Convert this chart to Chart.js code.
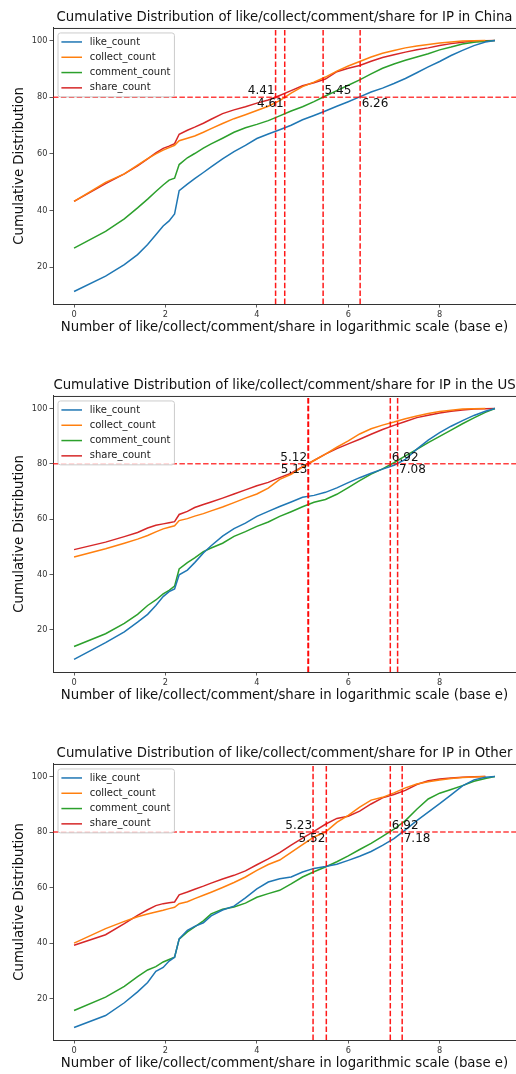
<!DOCTYPE html>
<html lang="en">
<head>
    <meta charset="UTF-8">
    <title>Cumulative Distribution of like/collect/comment/share</title>
    <script src="https://cdn.jsdelivr.net/npm/chart.js@4.4.1/dist/chart.umd.min.js"></script>
    <style>
        body {
            margin: 0;
            background: #ffffff;
            width: 516px;
            height: 1074px;
            overflow: hidden;
            position: relative;
        }
        .panel {
            position: absolute;
            left: 0;
            width: 516px;
            height: 340px;
        }
    </style>
</head>
<body>
    <div class="panel" style="top:0px"><canvas id="chinaChart" width="516" height="340"></canvas></div>
    <div class="panel" style="top:368px"><canvas id="usChart" width="516" height="340"></canvas></div>
    <div class="panel" style="top:736px"><canvas id="otherChart" width="516" height="340"></canvas></div>

    <script>
        // x = log(count), shared by all panels
        const logX = [0, 0.69, 1.1, 1.39, 1.61, 1.79, 1.95, 2.08, 2.2, 2.3,
            2.48, 2.64, 2.83, 3.0, 3.25, 3.5, 3.75, 4.0, 4.25, 4.5, 4.75, 5.0, 5.25, 5.5,
            5.75, 6.0, 6.25, 6.5, 6.75, 7.0, 7.25, 7.5, 7.75, 8.0, 8.25, 8.5, 8.75, 9.0, 9.21];

        const xTicks = [0, 2, 4, 6, 8];
        const yTicks = [20, 40, 60, 80, 100];

        const seriesNames = ['like_count', 'collect_count', 'comment_count', 'share_count'];
        const seriesColors = ['#1f77b4', '#ff7f0e', '#2ca02c', '#d62728'];
        const threshold = 80;

        // IP in China
        const chinaLike = [11.4, 16.8, 20.9, 24.4, 28.0, 31.4, 34.5, 36.3, 38.8, 47.0, 49.3, 51.2, 53.4, 55.4, 58.2, 60.8, 63.0, 65.4, 67.0, 68.5, 70.1, 72.0, 73.5, 75.1, 76.8, 78.4, 80.1, 81.8, 83.2, 84.8, 86.6, 88.6, 90.7, 92.6, 94.7, 96.5, 98.2, 99.5, 100];
        const chinaCollect = [43.2, 49.9, 52.9, 56.0, 58.3, 60.0, 61.3, 62.2, 63.0, 64.6, 65.5, 66.3, 67.6, 68.9, 70.7, 72.4, 73.8, 75.3, 76.8, 78.8, 81.4, 83.7, 85.3, 87.1, 89.2, 91.0, 92.6, 94.2, 95.5, 96.5, 97.4, 98.1, 98.6, 99.1, 99.5, 99.8, 99.9, 100, null];
        const chinaComment = [26.7, 32.6, 37.0, 40.9, 44.0, 46.7, 49.0, 50.7, 51.4, 56.2, 58.6, 60.1, 62.0, 63.5, 65.5, 67.6, 69.2, 70.4, 71.7, 73.4, 75.1, 76.6, 78.4, 80.4, 82.3, 84.2, 86.1, 88.2, 90.2, 91.7, 93.0, 94.2, 95.3, 96.7, 97.7, 98.8, 99.4, 99.7, 100];
        const chinaShare = [43.2, 49.5, 52.9, 55.7, 58.2, 60.3, 61.9, 62.7, 63.6, 66.9, 68.3, 69.4, 70.8, 72.2, 74.2, 75.5, 76.6, 77.9, 79.0, 80.6, 82.3, 84.0, 85.1, 86.4, 89.0, 90.2, 91.2, 92.7, 94.0, 95.0, 95.9, 96.7, 97.4, 98.2, 98.9, 99.4, 99.8, 99.9, 100];
        const chinaCuts = [4.41, 4.61, 5.45, 6.26];

        // IP in the US
        const usLike = [9.3, 15.4, 19.3, 22.8, 25.6, 28.8, 32.0, 33.8, 34.8, 39.9, 41.6, 44.3, 47.8, 50.4, 53.9, 56.6, 58.6, 61.0, 62.8, 64.6, 66.2, 67.9, 68.6, 69.7, 71.3, 73.2, 75.0, 76.6, 78.1, 79.5, 81.6, 85.3, 88.6, 91.3, 93.6, 95.6, 97.5, 99.0, 100];
        const usCollect = [46.3, 49.3, 51.3, 52.8, 54.1, 55.4, 56.5, 57.1, 57.6, 59.5, 60.2, 61.1, 62.0, 63.0, 64.4, 66.0, 67.6, 69.1, 71.2, 74.4, 76.2, 78.8, 81.2, 83.5, 86.0, 88.3, 90.8, 92.7, 94.0, 95.1, 96.3, 97.3, 98.2, 98.9, 99.4, 99.8, 99.9, 100, null];
        const usComment = [14.0, 18.6, 22.3, 25.6, 28.8, 30.8, 33.0, 34.3, 35.8, 42.0, 44.3, 46.0, 48.3, 49.6, 51.3, 53.8, 55.5, 57.4, 59.0, 61.0, 62.7, 64.5, 66.1, 67.1, 69.0, 71.4, 73.9, 76.3, 78.2, 80.4, 82.9, 85.2, 87.7, 89.9, 92.2, 94.5, 96.6, 98.6, 100];
        const usShare = [49.0, 51.7, 53.7, 55.2, 56.8, 57.8, 58.3, 58.7, 59.1, 61.7, 62.8, 64.2, 65.3, 66.2, 67.6, 69.1, 70.6, 72.1, 73.3, 75.0, 76.6, 79.0, 81.2, 83.5, 85.5, 87.2, 88.9, 90.7, 92.4, 93.9, 95.3, 96.7, 97.6, 98.4, 99.0, 99.5, 99.8, 99.9, 100];
        const usCuts = [5.12, 5.13, 6.92, 7.08];

        // IP in Other
        const otherLike = [9.6, 13.9, 18.5, 22.4, 25.8, 29.8, 31.2, 33.5, 34.9, 41.5, 44.6, 46.0, 47.3, 49.8, 51.9, 53.3, 56.3, 59.5, 62.0, 63.2, 63.8, 65.6, 66.9, 67.6, 68.4, 69.8, 71.3, 73.0, 75.2, 77.6, 80.8, 84.1, 87.2, 90.2, 93.4, 96.6, 98.8, 99.7, 100];
        const otherCollect = [40.0, 45.2, 47.8, 49.5, 50.5, 51.2, 51.8, 52.4, 52.9, 54.2, 54.9, 56.0, 57.2, 58.3, 60.0, 61.8, 63.8, 66.2, 68.3, 69.9, 72.7, 75.5, 78.2, 80.0, 83.5, 86.0, 89.0, 91.5, 92.5, 94.1, 95.9, 97.3, 98.1, 98.7, 99.3, 99.6, 99.8, 100, null];
        const otherComment = [15.7, 20.5, 24.4, 27.9, 30.3, 31.5, 33.2, 34.1, 34.9, 41.4, 44.0, 45.8, 48.0, 50.5, 52.2, 53.0, 54.4, 56.5, 57.8, 59.0, 61.3, 63.8, 65.7, 67.4, 69.3, 71.4, 73.7, 75.9, 78.4, 81.0, 84.1, 88.2, 91.9, 94.0, 95.3, 96.7, 98.3, 99.3, 100];
        const otherShare = [39.2, 43.0, 47.0, 50.0, 52.0, 53.5, 54.2, 54.5, 54.8, 57.4, 58.4, 59.4, 60.5, 61.6, 63.1, 64.4, 66.0, 68.2, 70.3, 72.6, 75.3, 77.8, 80.2, 82.8, 84.9, 85.7, 87.5, 90.1, 92.3, 93.5, 95.0, 97.1, 98.5, 99.1, 99.5, 99.7, 99.9, 100, null];
        const otherCuts = [5.23, 5.52, 6.92, 7.18];

        Chart.defaults.font.family = "'DejaVu Sans', sans-serif";
        Chart.defaults.color = '#222';

        // where each cut label goes: [textAlign, above the 80% line?]
        const cutPlacement = [['right', true], ['right', false], ['left', true], ['left', false]];

        const refLines = {
            id: 'refLines',
            afterDatasetsDraw(chart, args, opts) {
                const ctx = chart.ctx;
                const a = chart.chartArea;
                const x = chart.scales.x, y = chart.scales.y;
                const y80 = y.getPixelForValue(threshold);
                ctx.save();
                ctx.beginPath();
                ctx.rect(a.left, a.top, a.right - a.left, a.bottom - a.top);
                ctx.clip();
                ctx.lineWidth = 1.5;
                ctx.setLineDash([5.5, 2.4]);
                ctx.strokeStyle = 'rgba(255,0,0,0.75)';
                ctx.beginPath();
                ctx.moveTo(a.left, y80);
                ctx.lineTo(a.right, y80);
                ctx.stroke();
                ctx.strokeStyle = 'rgba(255,0,0,0.9)';
                opts.cuts.forEach(c => {
                    const px = x.getPixelForValue(c);
                    ctx.beginPath();
                    ctx.moveTo(px, a.bottom);
                    ctx.lineTo(px, a.top);
                    ctx.stroke();
                });
                ctx.restore();

                ctx.save();
                ctx.font = "12px 'DejaVu Sans'";
                ctx.fillStyle = '#111';
                opts.cuts.forEach((c, i) => {
                    const align = cutPlacement[i][0], above = cutPlacement[i][1];
                    const px = x.getPixelForValue(c);
                    ctx.textAlign = align;
                    ctx.textBaseline = above ? 'alphabetic' : 'top';
                    ctx.fillText(c.toFixed(2), px + (align === 'right' ? -1 : 1.5), above ? y80 - 3 : y80 + 0.5);
                });
                ctx.restore();
            },
            afterDraw(chart) {
                const ctx = chart.ctx;
                const a = chart.chartArea;
                // top spine
                ctx.save();
                ctx.strokeStyle = '#333';
                ctx.lineWidth = 1;
                ctx.beginPath();
                ctx.moveTo(a.left, a.top + 0.5);
                ctx.lineTo(a.right, a.top + 0.5);
                ctx.stroke();

                // legend, upper left like matplotlib
                const sets = chart.data.datasets;
                ctx.font = "10px 'DejaVu Sans'";
                const textW = Math.max(...sets.map(d => ctx.measureText(d.label).width));
                const bx = a.left + 5, by = a.top + 5;
                const rowH = 15.3;
                const bw = 31.7 + textW + 4;
                const bh = 18 + rowH * (sets.length - 1);
                ctx.beginPath();
                if (ctx.roundRect) ctx.roundRect(bx, by, bw, bh, 2.5);
                else ctx.rect(bx, by, bw, bh);
                ctx.fillStyle = 'rgba(255,255,255,0.8)';
                ctx.fill();
                ctx.strokeStyle = '#cccccc';
                ctx.lineWidth = 1;
                ctx.stroke();
                ctx.textAlign = 'left';
                ctx.textBaseline = 'middle';
                sets.forEach((d, i) => {
                    const cy = by + 9 + i * rowH;
                    ctx.strokeStyle = d.borderColor;
                    ctx.lineWidth = 1.5;
                    ctx.beginPath();
                    ctx.moveTo(bx + 3.4, cy);
                    ctx.lineTo(bx + 24, cy);
                    ctx.stroke();
                    ctx.fillStyle = '#222';
                    ctx.fillText(d.label, bx + 31.7, cy);
                });
                ctx.restore();
            }
        };

        function drawPanel(id, title, ys, cuts) {
            const vals = ys.flat().filter(v => v !== null);
            const yMin = Math.min(...vals), yMax = Math.max(...vals);
            const ySpan = yMax - yMin;
            const xMin = logX[0], xMax = logX[logX.length - 1];
            const xSpan = xMax - xMin;

            new Chart(document.getElementById(id), {
                type: 'line',
                data: {
                    datasets: ys.map((v, i) => ({
                        label: seriesNames[i],
                        data: logX.map((x, j) => ({ x: x, y: v[j] })),
                        borderColor: seriesColors[i],
                        backgroundColor: seriesColors[i],
                        borderWidth: 1.5,
                        pointRadius: 0,
                        tension: 0,
                        fill: false,
                        spanGaps: false
                    }))
                },
                options: {
                    responsive: false,
                    animation: false,
                    events: [],
                    layout: { padding: 0 },
                    plugins: {
                        legend: { display: false },
                        tooltip: { enabled: false },
                        title: {
                            display: true,
                            text: title,
                            fullSize: false,
                            color: '#111',
                            font: { size: 13.3, weight: 'normal', lineHeight: 1.2 },
                            padding: { top: 10, bottom: 2 }
                        },
                        refLines: { cuts: cuts }
                    },
                    scales: {
                        x: {
                            type: 'linear',
                            min: xMin - 0.05 * xSpan,
                            max: xMax + 0.05 * xSpan,
                            afterFit: s => { s.height = 36; },
                            afterBuildTicks: s => { s.ticks = xTicks.map(v => ({ value: v })); },
                            ticks: { maxRotation: 0, padding: 2, color: '#333', font: { size: 8.2 } },
                            grid: { display: true, drawOnChartArea: false, drawTicks: true, tickLength: 3.5, tickColor: '#333', tickWidth: 0.8 },
                            border: { display: true, color: '#333', width: 1 },
                            title: {
                                display: true,
                                text: 'Number of like/collect/comment/share in logarithmic scale (base e)',
                                color: '#111',
                                font: { size: 13.3, lineHeight: 1.2 },
                                padding: { top: 0, bottom: 4 }
                            }
                        },
                        y: {
                            min: yMin - 0.05 * ySpan,
                            max: yMax + 0.05 * ySpan,
                            afterFit: s => { s.width = 53; },
                            afterBuildTicks: s => { s.ticks = yTicks.map(v => ({ value: v })); },
                            ticks: { padding: 2, color: '#333', font: { size: 8.2 } },
                            grid: { display: true, drawOnChartArea: false, drawTicks: true, tickLength: 3.5, tickColor: '#333', tickWidth: 0.8 },
                            border: { display: true, color: '#333', width: 1 },
                            title: {
                                display: true,
                                text: 'Cumulative Distribution',
                                color: '#111',
                                font: { size: 13.3, lineHeight: 1.2 },
                                padding: { top: 12, bottom: 0 }
                            }
                        }
                    }
                },
                plugins: [refLines]
            });
        }

        drawPanel('chinaChart', 'Cumulative Distribution of like/collect/comment/share for IP in China',
            [chinaLike, chinaCollect, chinaComment, chinaShare], chinaCuts);
        drawPanel('usChart', 'Cumulative Distribution of like/collect/comment/share for IP in the US',
            [usLike, usCollect, usComment, usShare], usCuts);
        drawPanel('otherChart', 'Cumulative Distribution of like/collect/comment/share for IP in Other',
            [otherLike, otherCollect, otherComment, otherShare], otherCuts);
    </script>
</body>
</html>
